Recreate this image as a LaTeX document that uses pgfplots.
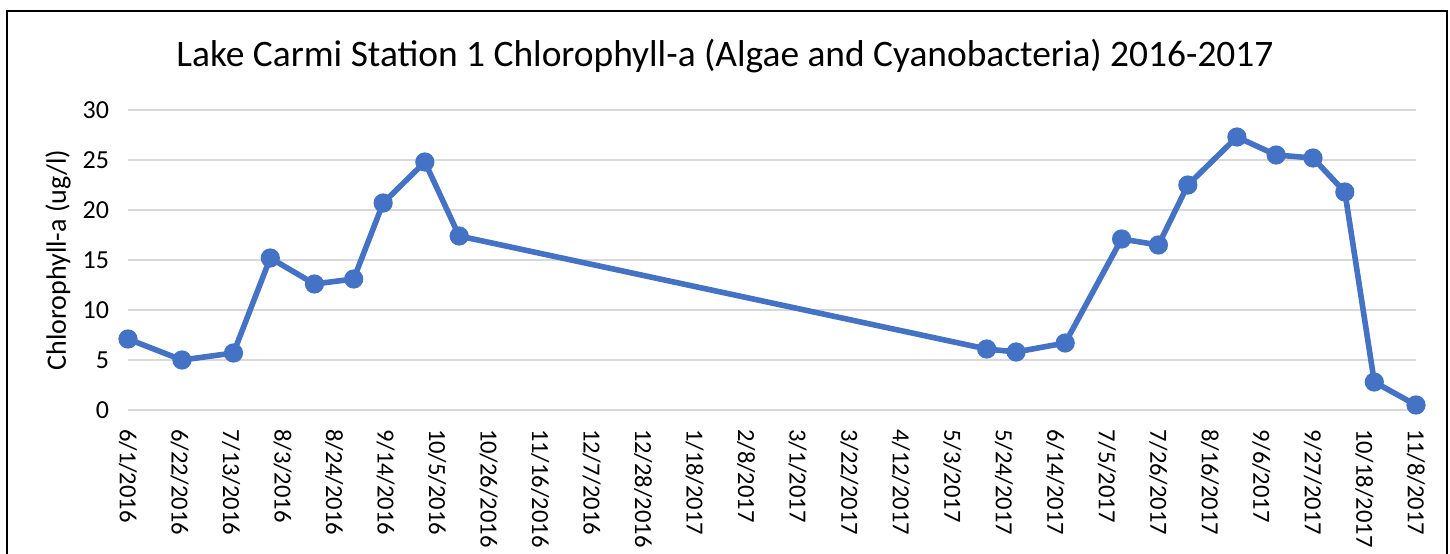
\documentclass[border=0pt]{standalone}
\usepackage{fontspec}
\setmainfont{Carlito}
\usepackage{pgfplots}
\pgfplotsset{compat=1.18}

\definecolor{chlblue}{HTML}{4472C4}
\definecolor{gridgray}{HTML}{D9D9D9}

% x values are days counted from 6/1/2016
\begin{document}
\begin{tikzpicture}
\useasboundingbox (-64bp,-72bp) rectangle (661bp,205bp);
\begin{axis}[
  scale only axis,
  width=644bp, height=150bp,
  xmin=0, xmax=525, ymin=0, ymax=30,
  ytick={0,5,...,30},
  xtick={0,21,...,525},
  xticklabels={6/1/2016,6/22/2016,7/13/2016,8/3/2016,8/24/2016,9/14/2016,
    10/5/2016,10/26/2016,11/16/2016,12/7/2016,12/28/2016,1/18/2017,
    2/8/2017,3/1/2017,3/22/2017,4/12/2017,5/3/2017,5/24/2017,6/14/2017,
    7/5/2017,7/26/2017,8/16/2017,9/6/2017,9/27/2017,10/18/2017,11/8/2017},
  axis line style={draw=none},
  major tick style={draw=none},
  ymajorgrids,
  grid style={color=gridgray, line width=0.8bp},
  /pgf/number format/assume math mode=true,
  xticklabel style={rotate=-90, anchor=west, font=\fontsize{12.3bp}{14bp}\selectfont},
  yticklabel style={anchor=east, font=\fontsize{13bp}{15bp}\selectfont},
  xticklabel shift=6bp,
  yticklabel shift=6bp,
  ylabel={Chlorophyll-a (ug/l)},
  ylabel style={at={(axis description cs:-0.0543,0.5)}, anchor=center,
    font=\fontsize{14bp}{16bp}\selectfont},
  clip=false,
]
\addplot[color=chlblue, line width=2.8bp, mark=*,
  mark options={scale=1.7, fill=chlblue, draw=chlblue}] coordinates {
  (0,7.1)(22,5.0)(43,5.7)(58,15.2)(76,12.6)(92,13.1)(104,20.7)
  (121,24.8)(135,17.4)(350,6.1)(362,5.8)(382,6.7)(405,17.1)
  (420,16.5)(432,22.5)(452,27.3)(468,25.5)(483,25.2)(496,21.8)
  (508,2.8)(525,0.5)
};
\end{axis}
\node[font=\fontsize{18.7bp}{22bp}\selectfont] at (298.5bp,177bp)
  {Lake Carmi Station 1 Chlorophyll-a (Algae and Cyanobacteria) 2016-2017};
\draw[line width=1.4bp] (-60.5bp,-80bp) -- (-60.5bp,199.5bp)
  -- (659.5bp,199.5bp) -- (659.5bp,-80bp);
\end{tikzpicture}
\end{document}
